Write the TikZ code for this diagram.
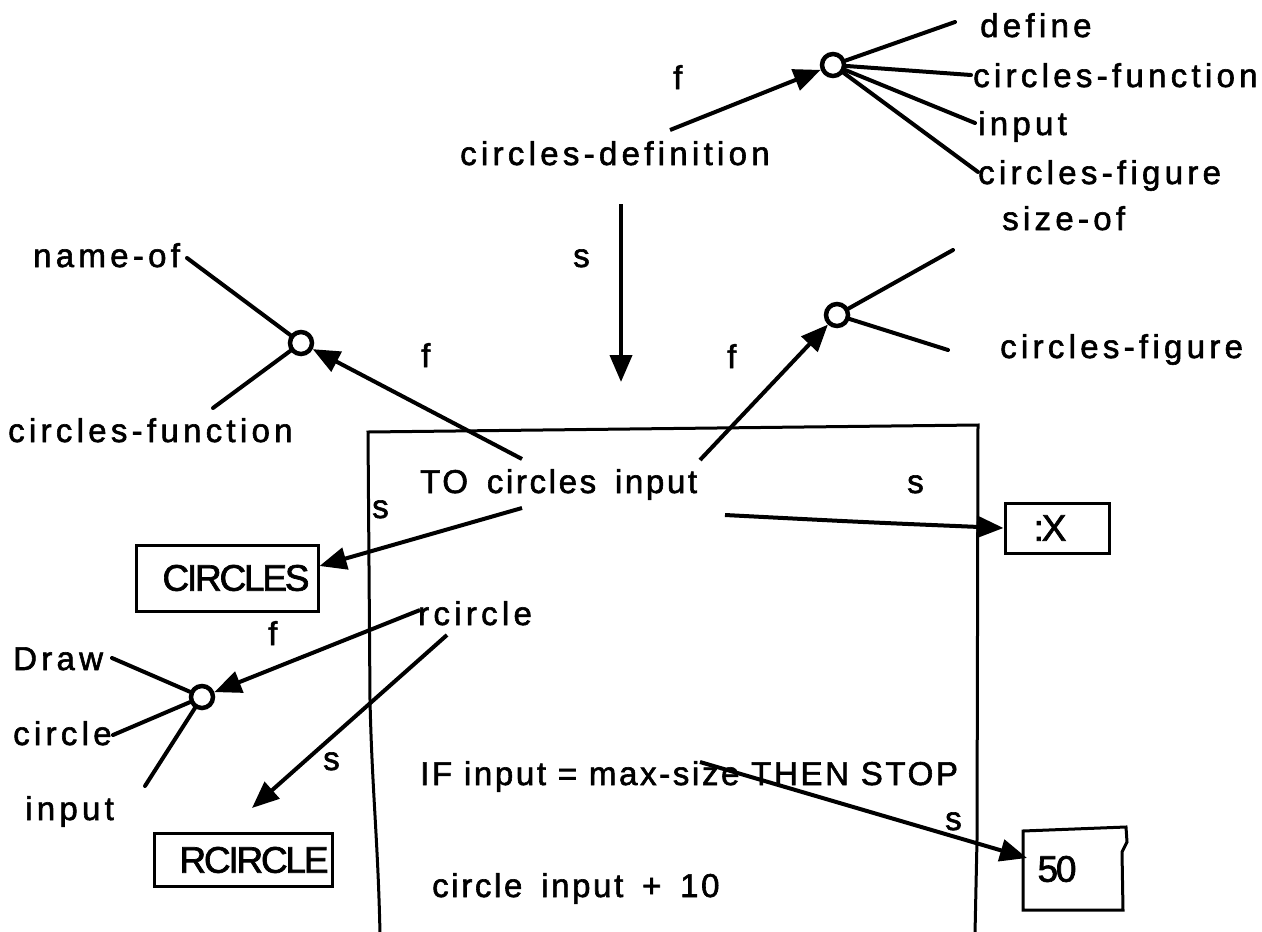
\documentclass[tikz,border=0pt]{standalone}
\usepackage{fontspec}
\setmainfont{Liberation Sans}
\newfontfamily\spaced[LetterSpace=13.0,FakeBold=1.8]{Liberation Sans}
\newfontfamily\midsp[LetterSpace=8.0,FakeBold=1.8]{Liberation Sans}
\newfontfamily\tight[LetterSpace=-6.0,FakeBold=1.8]{Liberation Sans}
\usetikzlibrary{arrows.meta}
\begin{document}
\begin{tikzpicture}[x=1pt,y=-1pt,
  txt/.style={font=\spaced\fontsize{33}{36}\selectfont, inner sep=0, anchor=base west},
  txtb/.style={font=\midsp\fontsize{33}{36}\selectfont, inner sep=0, anchor=base west},
  conn/.style={line width=4pt, line cap=round},
  arr/.style={line width=4pt, -{Triangle[length=27pt,width=22pt]}},
  hub/.style={circle, draw, line width=4.5pt, minimum size=22pt, inner sep=0},
  bx/.style={draw, line width=3pt, inner sep=0, font=\tight\fontsize{37}{40}\selectfont},
  frame/.style={line width=3pt}]
\useasboundingbox (0,0) rectangle (1262,932);

% main box
\draw[frame] (380,934) .. controls (378,840) and (372,790) .. (370,700) -- (368,432) -- (978,425) -- (977,840) -- (975,934);

% text nodes
\node[txt] (define) at (980,37) {define};
\node[txt] (cfunT) at (973,87) {circles-function};
\node[txt] (inpT) at (978,135) {input};
\node[txt] (cfigT) at (978,184) {circles-figure};
\node[txt] (fT) at (673,89) {f};
\node[txt] (cdef) at (460,165) {circles-definition};
\node[txt] (sV) at (573,267) {s};
\node[txt] (nameof) at (33,267) {name-of};
\node[txt] (cfunL) at (8,442) {circles-function};
\node[txt] (fL) at (421,367) {f};
\node[txt] (fR) at (727,368) {f};
\node[txt] (sizeof) at (1002,230) {size-of};
\node[txt] (cfigR) at (1000,358) {circles-figure};
\node[txtb] (to) at (420,493) {TO\hspace{7pt} circles\hspace{7pt} input};
\node[txt] (sX) at (907,493) {s};
\node[txt] (sC) at (372,518) {s};
\node[txt] (rc) at (418,625) {rcircle};
\node[txt] (fBL) at (268,645) {f};
\node[txt] (draw) at (13,670) {Draw};
\node[txt] (circ) at (13,745) {circle};
\node[txt] (inpBL) at (25,820) {input};
\node[txt] (sR) at (323,770) {s};
\node[txtb] (ifs) at (420,785) {IF input = max-size THEN STOP};
\node[txt] (s50) at (945,830) {s};
\node[txtb] (cin) at (432,897) {circle\hspace{7pt} input\hspace{7pt} +\hspace{7pt} 10};

% boxes
\node[bx, minimum width=182pt, minimum height=66pt] (bC) at (227,578) {\hspace*{18pt}CIRCLES};
\node[bx, minimum width=104pt, minimum height=50pt] (bX) at (1057,528) {:X\hspace*{14pt}};
\node[bx, minimum width=178pt, minimum height=53pt] (bR) at (243,860) {\hspace*{22pt}RCIRCLE};
\node[inner sep=0, minimum width=105pt, minimum height=83pt, font=\tight\fontsize{37}{40}\selectfont] (b50) at (1075,869) {50\hspace*{36pt}};
\draw[frame] (1023,831) -- (1126,827) -- (1127,842) -- (1122,852) -- (1123,910) -- (1023,910) -- cycle;

% hubs
\node[hub] (hT) at (833,65) {};
\node[hub] (hL) at (301,343) {};
\node[hub] (hR) at (837,315) {};
\node[hub] (hB) at (202,697) {};

% free ends
\coordinate (eDef) at (955,22);
\coordinate (eCf) at (971,75);
\coordinate (eIn) at (975,123);
\coordinate (eFig) at (978,172);
\coordinate (sCdef) at (670,130);
\coordinate (vTop) at (621,204);
\coordinate (vBot) at (621,382);
\coordinate (eName) at (187,258);
\coordinate (eCfL) at (213,408);
\coordinate (sToL) at (522,459);
\coordinate (sToR) at (700,460);
\coordinate (eSize) at (953,250);
\coordinate (eFigR) at (948,350);
\coordinate (sToC) at (522,508);
\coordinate (sToX) at (725,515);
\coordinate (sRc) at (420,610);
\coordinate (sRc2) at (447,635);
\coordinate (tR) at (252,808);
\coordinate (eDraw) at (112,658);
\coordinate (eCirc) at (113,735);
\coordinate (eInp) at (145,786);
\coordinate (sMax) at (700,762);
\coordinate (t50) at (1027,858);

% connectors
\draw[arr] (sCdef) -- (hT);
\draw[conn] (hT) -- (eDef);
\draw[conn] (hT) -- (eCf);
\draw[conn] (hT) -- (eIn);
\draw[conn] (hT) -- (eFig);
\draw[arr] (vTop) -- (vBot);
\draw[conn] (eName) -- (hL);
\draw[conn] (hL) -- (eCfL);
\draw[arr] (sToL) -- (hL);
\draw[arr] (sToR) -- (hR);
\draw[conn] (hR) -- (eSize);
\draw[conn] (hR) -- (eFigR);
\draw[arr] (sToC) -- (bC.east |- 0,566);
\draw[arr] (sToX) .. controls (860,522) .. (bX.west);
\draw[arr] (sRc) -- (hB);
\draw[arr] (sRc2) -- (tR);
\draw[conn] (eDraw) -- (hB);
\draw[conn] (eCirc) -- (hB);
\draw[conn] (eInp) -- (hB);
\draw[arr] (sMax) -- (t50);
\end{tikzpicture}
\end{document}
